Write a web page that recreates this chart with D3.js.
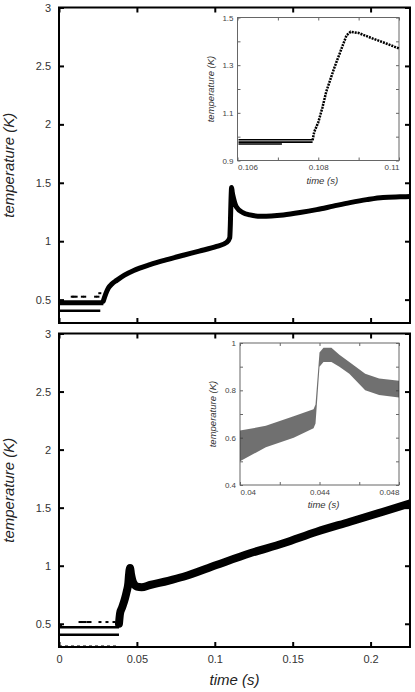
<!DOCTYPE html>
<html>
<head>
<meta charset="utf-8">
<script src="https://cdn.jsdelivr.net/npm/d3@7"></script>
<style>
  body { margin: 0; background: #fff; }
  text { font-family: "Liberation Sans", Arial, sans-serif; }
</style>
</head>
<body>
<div id="chart"></div>
<script>
// two stacked temperature traces with zoomed insets

// shared axes
var mainXTicks = [0, 0.05, 0.1, 0.15, 0.2];
var mainYTicks = [0.5, 1, 1.5, 2, 2.5, 3];

// top panel: quantized baseline levels, sparse points, and the main trace
var topLevelEnd = [0.0285, 0.0285, 0.0265];
var topLevelTemp = [0.483, 0.463, 0.405];
var topDotTime = [0.0085, 0.0095, 0.0110, 0.0150, 0.0165, 0.0235, 0.0250, 0.0262];
var topDotTemp = [0.525, 0.525, 0.525, 0.525, 0.525, 0.525, 0.525, 0.555];
var topTime = [0.0284, 0.0300, 0.0317, 0.0340, 0.0370, 0.0420, 0.0480, 0.0584, 0.0700, 0.0798, 0.0900, 0.1012, 0.1076, 0.1096, 0.1100, 0.1104, 0.1108, 0.1112, 0.1120, 0.1140, 0.1180, 0.1226, 0.1300, 0.1440, 0.1547, 0.1654, 0.1760, 0.1868, 0.1975, 0.2080, 0.2189, 0.2253];
var topTemp = [0.486, 0.55, 0.60, 0.635, 0.665, 0.71, 0.75, 0.80, 0.845, 0.88, 0.915, 0.955, 0.99, 1.03, 1.15, 1.35, 1.46, 1.42, 1.37, 1.29, 1.245, 1.225, 1.213, 1.225, 1.245, 1.27, 1.30, 1.33, 1.356, 1.375, 1.38, 1.382];

// top inset
var topInXTicks = [0.106, 0.108, 0.11];
var topInXMinor = [0.107, 0.109];
var topInYTicks = [0.9, 1.1, 1.3, 1.5];
var topInYMinor = [1.0, 1.2, 1.4];
var topInLevelEnd = [0.10786, 0.10786, 0.1071];
var topInLevelTemp = [0.987, 0.977, 0.969];
var topInTime = [0.10786, 0.1079, 0.1080, 0.1081, 0.1082, 0.1084, 0.1086, 0.1087, 0.1088, 0.1090, 0.1093, 0.1097, 0.1100];
var topInTemp = [0.985, 1.02, 1.06, 1.12, 1.19, 1.29, 1.38, 1.425, 1.44, 1.435, 1.415, 1.39, 1.37];

// bottom panel
var botLevelEnd = [0.0385, 0.0385, 0.038];
var botLevelTemp = [0.47, 0.405, 0.307];
var botDotTime = [0.0010, 0.0135, 0.0150, 0.0165, 0.0185, 0.0199, 0.0263, 0.0308, 0.0353];
var botDotTemp = [0.49, 0.515, 0.515, 0.515, 0.515, 0.515, 0.515, 0.515, 0.515];
var botTime = [0.0385, 0.0392, 0.0405, 0.0424, 0.0435, 0.0445, 0.0450, 0.0456, 0.0462, 0.0470, 0.0480, 0.0500, 0.0530, 0.0584, 0.0700, 0.0798, 0.1010, 0.1226, 0.1440, 0.1654, 0.1868, 0.2080, 0.2253];
var botTemp = [0.50, 0.59, 0.64, 0.72, 0.78, 0.85, 0.93, 0.98, 0.93, 0.88, 0.845, 0.82, 0.815, 0.834, 0.87, 0.905, 1.006, 1.107, 1.193, 1.293, 1.379, 1.465, 1.537];

// bottom inset (noisy band: lower / upper edge)
var botInXTicks = [0.04, 0.044, 0.048];
var botInXMinor = [0.042, 0.046];
var botInYTicks = [0.4, 0.6, 0.8, 1];
var botInYMinor = [0.5, 0.7, 0.9];
var botInTime = [0.0400, 0.0413, 0.0427, 0.0437, 0.0438, 0.0440, 0.0442, 0.0446, 0.0450, 0.0455, 0.0463, 0.0470, 0.0480];
var botInLow = [0.50, 0.56, 0.60, 0.64, 0.66, 0.90, 0.92, 0.92, 0.90, 0.87, 0.80, 0.78, 0.77];
var botInHigh = [0.63, 0.65, 0.69, 0.72, 0.74, 0.96, 0.98, 0.98, 0.95, 0.92, 0.87, 0.85, 0.84];

var svg = d3.select('#chart').append('svg')
    .attr('width', 415)
    .attr('height', 692);

function fmt(d) { return String(+d.toFixed(3)); }

// frame with inward ticks on all four sides
function drawAxes(g, x, y, o) {
    var w = x.range()[1], h = y.range()[0];
    var all = function(major, minor) { return major.concat(minor || []); };

    var bottom = g.append('g').attr('transform', 'translate(0,' + h + ')')
        .call(d3.axisBottom(x).tickValues(all(o.xTicks, o.xMinor))
            .tickSizeInner(-o.tick).tickSizeOuter(0).tickPadding(o.pad)
            .tickFormat(function(d) { return o.showX && o.xTicks.indexOf(d) >= 0 ? fmt(d) : ''; }));
    g.append('g')
        .call(d3.axisTop(x).tickValues(all(o.xTicks, o.xMinor))
            .tickSizeInner(-o.tick).tickSizeOuter(0).tickFormat(''));
    g.append('g')
        .call(d3.axisLeft(y).tickValues(all(o.yTicks, o.yMinor))
            .tickSizeInner(-o.tick).tickSizeOuter(0).tickPadding(o.pad)
            .tickFormat(function(d) { return o.yTicks.indexOf(d) >= 0 ? fmt(d) : ''; }));
    g.append('g').attr('transform', 'translate(' + w + ',0)')
        .call(d3.axisRight(y).tickValues(all(o.yTicks, o.yMinor))
            .tickSizeInner(-o.tick).tickSizeOuter(0).tickFormat(''));

    g.selectAll('.domain').remove();
    g.selectAll('.tick line').attr('stroke', o.color).attr('stroke-width', o.tickWidth);
    g.selectAll('.tick text').attr('fill', o.textColor).style('font-size', o.fontSize + 'px');

    if (o.edgeLabels) {
        var n = o.xTicks.length;
        bottom.selectAll('.tick text').attr('text-anchor', function(d) {
            if (d === o.xTicks[0]) return 'start';
            if (d === o.xTicks[n - 1]) return 'end';
            return 'middle';
        });
    }

    g.append('rect')
        .attr('width', w).attr('height', h)
        .attr('fill', 'none')
        .attr('stroke', o.color)
        .attr('stroke-width', o.frameWidth);
}

function drawMain(top, height, levelEnd, levelTemp, dotTime, dotTemp, time, temp, lineWidth, showX) {
    var w = 351;
    var g = svg.append('g').attr('transform', 'translate(59,' + top + ')');
    var x = d3.scaleLinear().domain([0, 0.2253]).range([0, w]);
    var y = d3.scaleLinear().domain([0.3, 3]).range([height, 0]);

    var clip = 'clip' + Math.round(top);
    g.append('clipPath').attr('id', clip).append('rect').attr('width', w).attr('height', height);
    var plot = g.append('g').attr('clip-path', 'url(#' + clip + ')');

    plot.selectAll('line.level')
        .data(levelEnd)
        .enter()
        .append('line')
        .attr('class', 'level')
        .attr('x1', x(0))
        .attr('x2', function(d) { return x(d); })
        .attr('y1', function(d, i) { return y(levelTemp[i]); })
        .attr('y2', function(d, i) { return y(levelTemp[i]); })
        .attr('stroke', '#000')
        .attr('stroke-width', function(d, i) { return levelTemp[i] < 0.32 ? 1.5 : 2.6; })
        .attr('stroke-dasharray', function(d, i) { return levelTemp[i] < 0.32 ? '3,3' : null; });

    plot.selectAll('rect.dot')
        .data(dotTime)
        .enter()
        .append('rect')
        .attr('class', 'dot')
        .attr('x', function(d) { return x(d) - 1.5; })
        .attr('y', function(d, i) { return y(dotTemp[i]) - 1; })
        .attr('width', 3)
        .attr('height', 2)
        .attr('fill', '#000');

    var line = d3.line()
        .x(function(d) { return x(d); })
        .y(function(d, i) { return y(temp[i]); })
        .curve(d3.curveMonotoneX);

    plot.append('path')
        .attr('d', line(time))
        .attr('fill', 'none')
        .attr('stroke', '#000')
        .attr('stroke-width', lineWidth)
        .attr('stroke-linecap', 'round')
        .attr('stroke-linejoin', 'round');

    drawAxes(g, x, y, {
        xTicks: mainXTicks, yTicks: mainYTicks, tick: 5, pad: 8,
        showX: showX, color: '#000', textColor: '#333', fontSize: 11,
        tickWidth: 2, frameWidth: 2
    });

    g.append('text')
        .attr('transform', 'translate(-45,' + (height / 2) + ') rotate(-90)')
        .attr('text-anchor', 'middle')
        .style('font-size', '15px')
        .style('font-style', 'italic')
        .attr('fill', '#222')
        .text('temperature (K)');

    if (showX) {
        g.append('text')
            .attr('x', w / 2)
            .attr('y', height + 38)
            .attr('text-anchor', 'middle')
            .style('font-size', '15px')
            .style('font-style', 'italic')
            .attr('fill', '#222')
            .text('time (s)');
    }
    return g;
}

function drawInset(left, top, w, h, xDomain, yDomain, xt, xm, yt, ym) {
    var g = svg.append('g').attr('transform', 'translate(' + left + ',' + top + ')');
    var x = d3.scaleLinear().domain(xDomain).range([0, w]);
    var y = d3.scaleLinear().domain(yDomain).range([h, 0]);

    g.append('rect').attr('width', w).attr('height', h).attr('fill', '#fff');

    drawAxes(g, x, y, {
        xTicks: xt, xMinor: xm, yTicks: yt, yMinor: ym, tick: 3, pad: 4,
        showX: true, color: '#666', textColor: '#444', fontSize: 8,
        tickWidth: 1, frameWidth: 1, edgeLabels: true
    });

    g.append('text')
        .attr('transform', 'translate(-24,' + (h / 2) + ') rotate(-90)')
        .attr('text-anchor', 'middle')
        .style('font-size', '9.5px')
        .style('font-style', 'italic')
        .attr('fill', '#333')
        .text('temperature (K)');

    g.append('text')
        .attr('x', w / 2 + 4)
        .attr('y', h + 23)
        .attr('text-anchor', 'middle')
        .style('font-size', '9.5px')
        .style('font-style', 'italic')
        .attr('fill', '#333')
        .text('time (s)');

    return { g: g, x: x, y: y };
}

// main panels
drawMain(7.5, 315.5, topLevelEnd, topLevelTemp, topDotTime, topDotTemp, topTime, topTemp, 5, false);
drawMain(333.5, 313.5, botLevelEnd, botLevelTemp, botDotTime, botDotTemp, botTime, botTemp, 8, true);

// top inset
var ti = drawInset(237.5, 17.5, 161.5, 143, [0.106, 0.110], [0.9, 1.5], topInXTicks, topInXMinor, topInYTicks, topInYMinor);
ti.g.selectAll('line.level')
    .data(topInLevelEnd)
    .enter()
    .append('line')
    .attr('class', 'level')
    .attr('x1', ti.x(0.106) + 1)
    .attr('x2', function(d) { return ti.x(d); })
    .attr('y1', function(d, i) { return ti.y(topInLevelTemp[i]); })
    .attr('y2', function(d, i) { return ti.y(topInLevelTemp[i]); })
    .attr('stroke', '#000')
    .attr('stroke-width', 1.6);
ti.g.append('path')
    .attr('d', d3.line()
        .x(function(d) { return ti.x(d); })
        .y(function(d, i) { return ti.y(topInTemp[i]); })(topInTime))
    .attr('fill', 'none')
    .attr('stroke', '#000')
    .attr('stroke-width', 2.5)
    .attr('stroke-dasharray', '2,1');

// bottom inset
var bi = drawInset(240, 343, 159, 142, [0.040, 0.048], [0.4, 1.0], botInXTicks, botInXMinor, botInYTicks, botInYMinor);
bi.g.append('path')
    .attr('d', d3.area()
        .x(function(d) { return bi.x(d); })
        .y0(function(d, i) { return bi.y(botInLow[i]); })
        .y1(function(d, i) { return bi.y(botInHigh[i]); })(botInTime))
    .attr('fill', '#333')
    .attr('fill-opacity', 0.7);
</script>
</body>
</html>
